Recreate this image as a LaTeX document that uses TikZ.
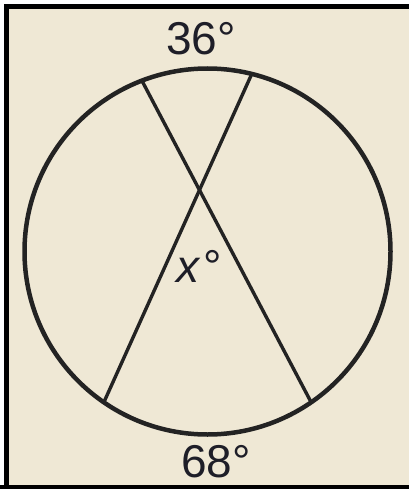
\documentclass[tikz,border=0pt]{standalone}
\usepackage{fontspec}
\setmainfont{Liberation Sans}
\usetikzlibrary{calc}
\definecolor{bgcream}{HTML}{EFE8D5}
\definecolor{ink}{HTML}{232323}
\definecolor{txt}{HTML}{1E1E28}
\begin{document}
\begin{tikzpicture}[x=1pt,y=-1pt,
  circ/.style={draw=ink,line width=4.5pt},
  chord/.style={draw=ink,line width=3.4pt},
  lbl/.style={anchor=base,inner sep=0pt,text=txt,font=\fontsize{46}{50}\selectfont}]
\useasboundingbox (0,0) rectangle (409,489);
\fill[white] (0,0) rectangle (409,489);
\fill[bgcream] (6.5,7) rectangle (409,486.5);
\draw[black,line width=5pt] (6.5,489) -- (6.5,7) -- (409,7);
\draw[black,line width=4pt] (0,487) -- (409,487);
\coordinate (O) at (207.5,251.5);
\draw[circ] (O) circle[radius=183];
% y axis points down, so angles are negated
\coordinate (A) at ($(O)+(-111:183)$);
\coordinate (B) at ($(O)+(-76:183)$);
\coordinate (C) at ($(O)+(-235.5:183)$);
\coordinate (D) at ($(O)+(-304.5:183)$);
\draw[chord] (A) -- (D);
\draw[chord] (B) -- (C);
\node[lbl] (top) at (201,55) {36°};
\node[lbl] (bot) at (216,477) {68°};
\node[lbl] (ang) at (199,282) {\textit{x}\kern3pt°};
\end{tikzpicture}
\end{document}
